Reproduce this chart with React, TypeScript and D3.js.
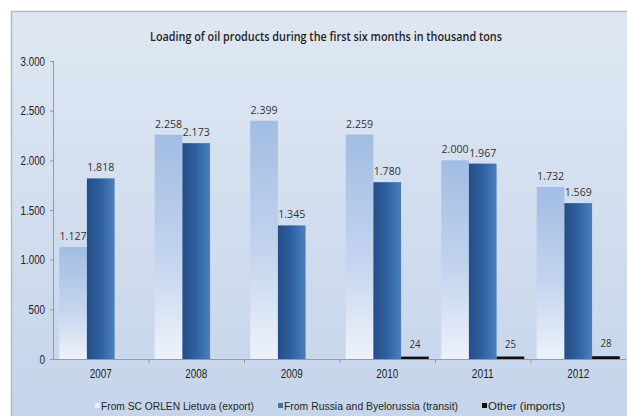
import React from "react";
import * as d3 from "d3";

const years = ["2007", "2008", "2009", "2010", "2011", "2012"];
const exportVals = [1127, 2258, 2399, 2259, 2000, 1732];
const transitVals = [1818, 2173, 1345, 1780, 1967, 1569];
const otherVals: (number | null)[] = [null, null, null, 24, 25, 28];
const yTicks = [0, 500, 1000, 1500, 2000, 2500, 3000];
const seriesNames = [
  "From SC ORLEN Lietuva (export)",
  "From Russia and Byelorussia (transit)",
  "Other (imports)",
];
const title = "Loading of oil products during the first six months in thousand tons";

const W = 627;
const H = 416;
const narrow = "'Liberation Sans', Arial, sans-serif";
const calibri = "'Open Sans', 'Noto Sans', sans-serif";

const fmt = (v: number) => {
  const s = String(Math.round(v));
  return s.replace(/\B(?=(\d{3})+(?!\d))/g, ".");
};
const narrowLen = (s: string) => {
  let n = 0;
  for (const c of s) n += c === "." ? 2.4 : 5.5;
  return n;
};

export default function App() {
  const x0 = d3.scaleBand<string>().domain(years).range([53, 626]).paddingInner(0).paddingOuter(0);
  const bw = x0.bandwidth();
  const barW = bw * 0.29;
  const groupW = barW * 3;
  const off = (bw - groupW) / 2;
  const y = d3.scaleLinear().domain([0, 3000]).range([359, 61]);
  const base = y(0);

  return (
    <svg width={W} height={H} style={{ position: "absolute", left: 0, top: 0 }}>
      <defs>
        <linearGradient id="bg" x1="0" y1="0" x2="0" y2="1">
          <stop offset="0%" stopColor="#dfe7f3" />
          <stop offset="100%" stopColor="#c4d4ea" />
        </linearGradient>
        <linearGradient id="exp" x1="0" y1="0" x2="0" y2="1">
          <stop offset="0%" stopColor="#a2bce3" />
          <stop offset="55%" stopColor="#c3d4ee" />
          <stop offset="100%" stopColor="#eef3fa" />
        </linearGradient>
        <linearGradient id="tra" x1="0" y1="0" x2="1" y2="0">
          <stop offset="0%" stopColor="#264d85" />
          <stop offset="50%" stopColor="#2f61a0" />
          <stop offset="100%" stopColor="#4a80c2" />
        </linearGradient>
      </defs>
      <rect x={0} y={0} width={W} height={H} fill="#ffffff" />
      <rect x={11.5} y={11.5} width={630} height={420} fill="url(#bg)" stroke="#b9b9b9" strokeWidth={1.5} />
      <text x={326} y={41} textAnchor="middle" fontFamily={calibri} fontWeight="600" fontSize={11.8} fill="#1f1f1f" textLength={352} lengthAdjust="spacingAndGlyphs">
        {title}
      </text>

      {/* y axis */}
      <line x1={53.5} x2={53.5} y1={y(3000)} y2={base} stroke="#9a9a9a" />
      {yTicks.map((t) => (
        <g key={t}>
          <line x1={50} x2={53.5} y1={y(t) + 0.5} y2={y(t) + 0.5} stroke="#9a9a9a" />
          <text x={45} y={y(t) + 4.5} textAnchor="end" fontFamily={narrow} fontSize={12} fill="#222" textLength={narrowLen(fmt(t))} lengthAdjust="spacingAndGlyphs">
            {fmt(t)}
          </text>
        </g>
      ))}

      {/* bars */}
      {years.map((yr, i) => {
        const gx = (x0(yr) as number) + off;
        const ev = exportVals[i];
        const tv = transitVals[i];
        const ov = otherVals[i];
        return (
          <g key={yr}>
            <rect x={gx} y={y(ev)} width={barW} height={base - y(ev)} fill="url(#exp)" />
            <rect x={gx + barW} y={y(tv)} width={barW} height={base - y(tv)} fill="url(#tra)" />
            {ov != null && (
              <rect x={gx + 2 * barW} y={y(ov)} width={barW} height={base - y(ov)} fill="#0d0d0d" />
            )}
            <text x={gx + barW / 2} y={y(ev) - 7} textAnchor="middle" fontFamily={calibri} fontSize={11.5} fill="#333" textLength={27} lengthAdjust="spacingAndGlyphs">
              {fmt(ev)}
            </text>
            <text x={gx + barW * 1.5} y={y(tv) - 7} textAnchor="middle" fontFamily={calibri} fontSize={11.5} fill="#333" textLength={27} lengthAdjust="spacingAndGlyphs">
              {fmt(tv)}
            </text>
            {ov != null && (
              <text x={gx + barW * 2.5} y={y(ov) - 9} textAnchor="middle" fontFamily={calibri} fontSize={11.5} fill="#333" textLength={11} lengthAdjust="spacingAndGlyphs">
                {fmt(ov)}
              </text>
            )}
          </g>
        );
      })}

      {/* x axis */}
      <line x1={53} x2={626} y1={base + 0.5} y2={base + 0.5} stroke="#9a9a9a" />
      {years.map((yr, i) => (
        <g key={yr}>
          {i > 0 && (
            <line x1={(x0(yr) as number) + 0.5} x2={(x0(yr) as number) + 0.5} y1={base} y2={base + 4} stroke="#9a9a9a" />
          )}
          <text x={(x0(yr) as number) + bw / 2} y={378} textAnchor="middle" fontFamily={narrow} fontSize={12} fill="#222" textLength={22} lengthAdjust="spacingAndGlyphs">
            {yr}
          </text>
        </g>
      ))}

      {/* legend */}
      {[
        { x: 95, fill: "#e9eff8", name: seriesNames[0], len: 153 },
        { x: 278, fill: "#3f72b3", name: seriesNames[1], len: 174 },
        { x: 482, fill: "#0d0d0d", name: seriesNames[2], len: 77 },
      ].map((d) => (
        <g key={d.name}>
          <rect x={d.x} y={403} width={5} height={5} fill={d.fill} />
          <text x={d.x + 6} y={410} fontFamily={narrow} fontSize={11} fill="#262626" textLength={d.len} lengthAdjust="spacingAndGlyphs">
            {d.name}
          </text>
        </g>
      ))}
    </svg>
  );
}
